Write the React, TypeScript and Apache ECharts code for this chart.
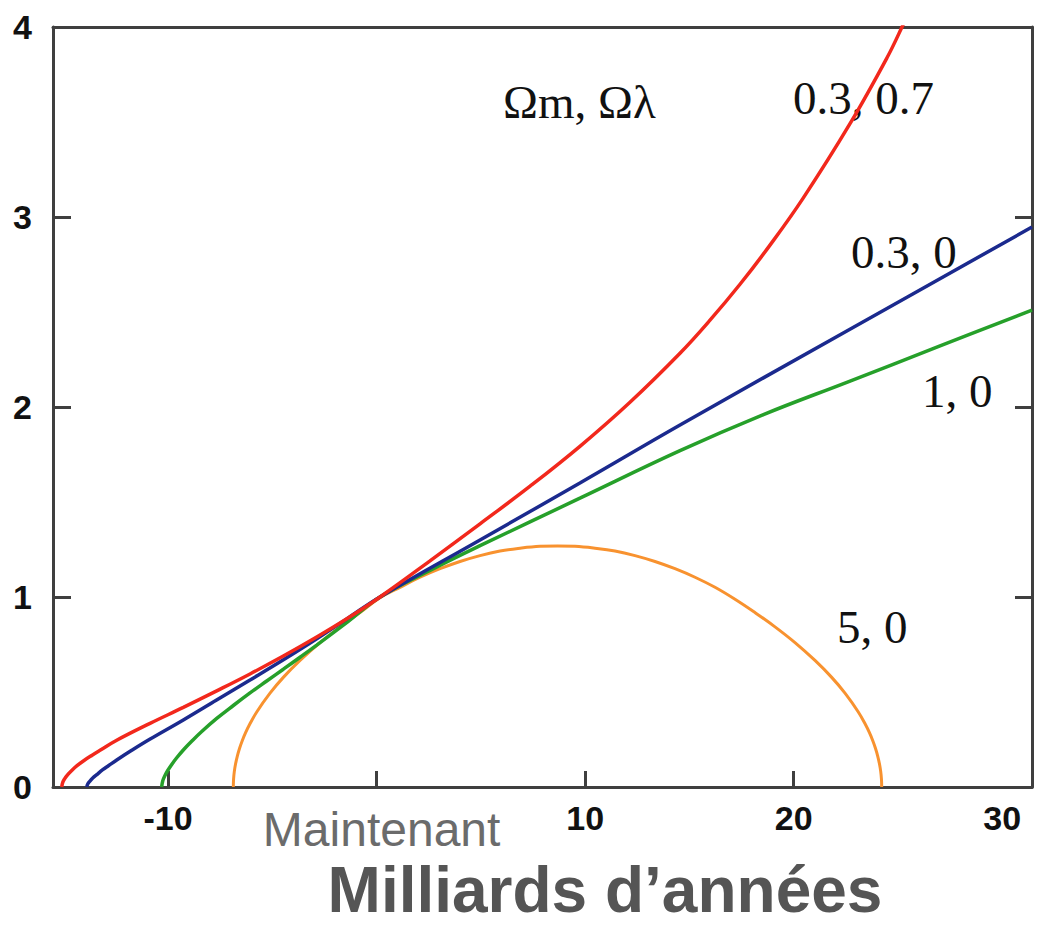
import React, { useEffect, useRef } from 'react';
import * as echarts from 'echarts';

// Axis ticks / labels
const xTickValues = [-10, 0, 10, 20];
const xLabelValues = [-10, 0, 10, 20, 30];
const yTickValues = [1, 2, 3];
const nowLabel = 'Maintenant';
const xAxisTitle = 'Milliards d’années';
const legendTitle = 'Ωm, Ωλ';

// Series names (Ωm, Ωλ)
const seriesNames = ['0.3, 0.7', '0.3, 0', '1, 0', '5, 0'];

// Scale factor curves: [time (Gyr), a]
const redCurve: [number, number][] = [
  [-15.1, 0], [-15.053, 0.024], [-14.957, 0.044], [-14.813, 0.065], [-14.622, 0.087],
  [-14.382, 0.111], [-14.065, 0.137], [-13.662, 0.166], [-13.264, 0.193], [-12.464, 0.246],
  [-10.866, 0.335], [-9.27, 0.419], [-7.668, 0.506], [-6.071, 0.595], [-4.474, 0.689],
  [-2.873, 0.789], [-1.372, 0.889], [0.163, 1.0], [2.56, 1.19], [4.96, 1.385],
  [7.36, 1.583], [9.75, 1.793], [12.15, 2.025], [14.549, 2.283], [15.988, 2.457],
  [17.427, 2.646], [18.865, 2.852], [20.448, 3.098], [22.702, 3.491], [24.476, 3.838],
  [25.195, 4.0], [25.818, 4.153],
];
const blueCurve: [number, number][] = [
  [-13.9, 0], [-13.854, 0.016], [-13.758, 0.03], [-13.614, 0.047], [-13.422, 0.065],
  [-13.135, 0.091], [-12.847, 0.113], [-12.464, 0.142], [-11.744, 0.193], [-10.881, 0.251],
  [-9.27, 0.353], [-7.673, 0.458], [-6.071, 0.563], [-4.49, 0.668], [-2.87, 0.78],
  [-1.36, 0.89], [0.163, 1.0], [4.96, 1.3], [9.75, 1.6], [14.55, 1.905], [22.55, 2.4],
  [31.43, 2.947],
];
const greenCurve: [number, number][] = [
  [-10.31, 0], [-10.258, 0.032], [-10.162, 0.058], [-10.018, 0.087], [-9.826, 0.119],
  [-9.586, 0.154], [-9.27, 0.195], [-8.867, 0.241], [-8.387, 0.292], [-7.668, 0.361],
  [-6.872, 0.429], [-6.071, 0.495], [-5.27, 0.558], [-4.474, 0.62], [-3.673, 0.683],
  [-2.873, 0.747], [-1.372, 0.871], [0.163, 1.0], [2.56, 1.14], [4.96, 1.27], [9.75, 1.52],
  [14.55, 1.77], [18.55, 1.96], [22.55, 2.13], [26.99, 2.32], [31.43, 2.51],
];
const orangeCurve: [number, number][] = [
  [-6.872, 0], [-6.86, 0.041], [-6.824, 0.082], [-6.764, 0.122], [-6.68, 0.163],
  [-6.572, 0.204], [-6.44, 0.245], [-6.284, 0.286], [-6.105, 0.326], [-5.75, 0.395],
  [-5.112, 0.494], [-4.474, 0.577], [-3.673, 0.666], [-2.714, 0.76], [-1.755, 0.843],
  [-0.796, 0.918], [0.163, 0.996], [1.122, 1.051], [2.081, 1.104], [3.04, 1.149],
  [3.999, 1.187], [4.959, 1.218], [5.918, 1.242], [6.877, 1.257], [7.836, 1.267],
  [8.675, 1.269], [9.514, 1.267], [10.473, 1.257], [11.432, 1.242], [12.391, 1.218],
  [13.35, 1.187], [14.309, 1.149], [15.268, 1.104], [16.228, 1.051], [17.187, 0.988],
  [18.146, 0.918], [19.105, 0.843], [20.064, 0.76], [21.023, 0.666], [21.824, 0.577],
  [22.462, 0.494], [23.1, 0.395], [23.455, 0.326], [23.634, 0.286], [23.79, 0.245],
  [23.922, 0.204], [24.03, 0.163], [24.114, 0.122], [24.174, 0.082], [24.21, 0.041],
  [24.222, 0],
];

const curves = [redCurve, blueCurve, greenCurve, orangeCurve];
const colors = ['#f2281c', '#1b2a8e', '#26a02a', '#f8922f'];
const widths = [3.5, 3.5, 3.5, 3];

const frameColor = '#3f3f3f';
const labelFont = 'Liberation Sans';
const serifFont = 'Liberation Serif';

export default function App() {
  const ref = useRef<HTMLDivElement>(null);
  useEffect(() => {
    const chart = echarts.init(ref.current!, null, { renderer: 'svg' });
    const lineStyle = { color: frameColor, width: 3 };
    const annot = (text: string, x: number, y: number) => ({
      type: 'text',
      x,
      y,
      style: { text, font: `47px "${serifFont}"`, fill: '#111', align: 'left', verticalAlign: 'middle' },
    });
    chart.setOption({
      animation: false,
      backgroundColor: '#ffffff',
      grid: { left: 53, right: 32, top: 27, bottom: 150, containLabel: false },
      xAxis: [
        {
          type: 'value',
          position: 'bottom',
          min: -15.52,
          max: 31.43,
          splitLine: { show: false },
          axisLine: { show: true, onZero: false, lineStyle },
          axisTick: {
            show: true,
            inside: true,
            length: 16,
            customValues: xTickValues,
            lineStyle: { color: frameColor, width: 3 },
          },
          axisLabel: {
            show: true,
            customValues: xLabelValues,
            margin: 14,
            fontFamily: labelFont,
            fontWeight: 'bold',
            fontSize: 34,
            color: '#111111',
            formatter: (v: number) => (v === 0 ? '{m|' + nowLabel + '}' : String(v)),
            rich: {
              m: {
                fontFamily: labelFont,
                fontWeight: 'normal',
                fontSize: 48,
                color: '#6b6b6b',
                padding: [4, 0, 0, 10],
              },
            },
          },
          name: xAxisTitle,
          nameLocation: 'middle',
          nameGap: 68,
          nameTextStyle: {
            fontFamily: labelFont,
            fontWeight: 'bold',
            fontSize: 64,
            color: '#555555',
            padding: [0, 0, 0, 125],
          },
        },
        {
          type: 'value',
          position: 'top',
          min: -15.52,
          max: 31.43,
          splitLine: { show: false },
          axisLine: { show: true, onZero: false, lineStyle },
          axisTick: { show: false },
          axisLabel: { show: false },
        },
      ],
      yAxis: [
        {
          type: 'value',
          position: 'left',
          min: 0,
          max: 4,
          interval: 1,
          splitLine: { show: false },
          axisLine: { show: true, onZero: false, lineStyle },
          axisTick: {
            show: true,
            inside: true,
            length: 18,
            customValues: yTickValues,
            lineStyle: { color: frameColor, width: 3 },
          },
          axisLabel: {
            show: true,
            margin: 21,
            fontFamily: labelFont,
            fontWeight: 'bold',
            fontSize: 34,
            color: '#111111',
          },
        },
        {
          type: 'value',
          position: 'right',
          min: 0,
          max: 4,
          interval: 1,
          splitLine: { show: false },
          axisLine: { show: true, onZero: false, lineStyle },
          axisTick: {
            show: true,
            inside: true,
            length: 17,
            customValues: yTickValues,
            lineStyle: { color: frameColor, width: 3 },
          },
          axisLabel: { show: false },
        },
      ],
      series: curves.map((data, i) => ({
        type: 'line',
        name: seriesNames[i],
        data,
        xAxisIndex: 0,
        yAxisIndex: 0,
        showSymbol: false,
        symbol: 'none',
        smooth: 0.4,
        clip: true,
        lineStyle: { color: colors[i], width: widths[i] },
        z: 3 + (3 - i),
      })),
      graphic: [
        annot(legendTitle, 503, 102),
        annot(seriesNames[0], 793, 98),
        annot(seriesNames[1], 851, 252),
        annot(seriesNames[2], 922, 391),
        annot(seriesNames[3], 837, 627),
      ],
    });
    return () => chart.dispose();
  }, []);
  return (
    <div
      ref={ref}
      style={{ position: 'fixed', left: 0, top: 0, width: 1064, height: 937, background: '#fff' }}
    />
  );
}
